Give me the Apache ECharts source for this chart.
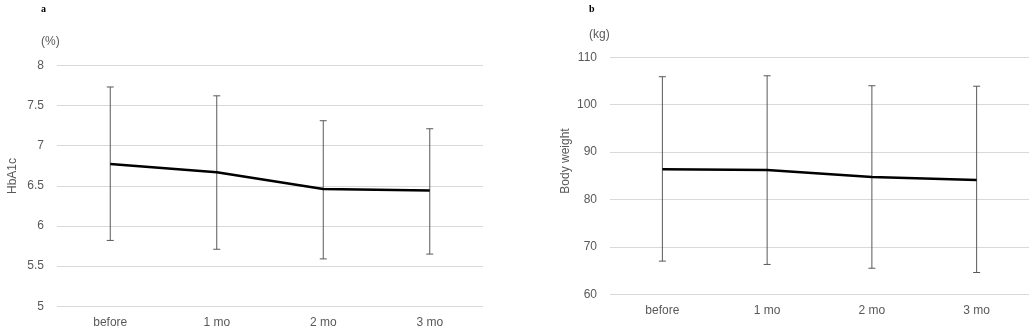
<!DOCTYPE html>
<html>
<head>
<meta charset="utf-8">
<script src="https://cdn.jsdelivr.net/npm/echarts@6/dist/echarts.min.js"></script>
<style>html,body{margin:0;padding:0;background:#fff;}#c{width:1035px;height:330px;}</style>
</head>
<body>
<div id="c"></div>
<script>
var categories = ['before', '1 mo', '2 mo', '3 mo'];
var hba1cMean  = [6.77, 6.67, 6.46, 6.44];
var hba1cUpper = [7.73, 7.62, 7.31, 7.21];
var hba1cLower = [5.82, 5.71, 5.59, 5.65];
var weightMean  = [86.4, 86.2, 84.75, 84.1];
var weightUpper = [105.9, 106.1, 104.0, 103.9];
var weightLower = [67.0, 66.3, 65.5, 64.6];

var FONT = 'Liberation Sans, Arial, sans-serif';
var TXT = '#595959';

function errData(lo, hi) {
  return lo.map(function (v, i) { return [i, v, hi[i]]; });
}
function errRender(params, api) {
  var x = api.value(0);
  var lo = api.coord([x, api.value(1)]);
  var hi = api.coord([x, api.value(2)]);
  var cw = 3.5;
  var st = { stroke: '#595959', lineWidth: 1 };
  return {
    type: 'group',
    children: [
      { type: 'line', shape: { x1: lo[0], y1: lo[1], x2: hi[0], y2: hi[1] }, style: st },
      { type: 'line', shape: { x1: lo[0] - cw, y1: lo[1], x2: lo[0] + cw, y2: lo[1] }, style: st },
      { type: 'line', shape: { x1: hi[0] - cw, y1: hi[1], x2: hi[0] + cw, y2: hi[1] }, style: st }
    ]
  };
}
function xAx(idx, margin) {
  return {
    type: 'category', gridIndex: idx, data: categories, boundaryGap: true,
    axisLine: { show: false }, axisTick: { show: false },
    axisLabel: { color: TXT, fontFamily: FONT, fontSize: 12, margin: margin }
  };
}
function yAx(idx, min, max, interval) {
  return {
    type: 'value', gridIndex: idx, min: min, max: max, interval: interval,
    axisLine: { show: false }, axisTick: { show: false },
    axisLabel: { color: TXT, fontFamily: FONT, fontSize: 12, margin: 13 },
    splitLine: { lineStyle: { color: '#d9d9d9', width: 1 } }
  };
}

var chart = echarts.init(document.getElementById('c'), null, { renderer: 'canvas' });
chart.setOption({
  animation: false,
  backgroundColor: '#fff',
  grid: [
    { left: 57, right: 552, top: 65.3, bottom: 23.7 },
    { left: 610, right: 6, top: 57.3, bottom: 35.7 }
  ],
  xAxis: [xAx(0, 10), xAx(1, 10)],
  yAxis: [yAx(0, 5, 8, 0.5), yAx(1, 60, 110, 10)],
  series: [
    { type: 'custom', xAxisIndex: 0, yAxisIndex: 0, renderItem: errRender, data: errData(hba1cLower, hba1cUpper), z: 2 },
    { type: 'line', xAxisIndex: 0, yAxisIndex: 0, data: hba1cMean, symbol: 'none', lineStyle: { color: '#000', width: 2.5 }, z: 3 },
    { type: 'custom', xAxisIndex: 1, yAxisIndex: 1, renderItem: errRender, data: errData(weightLower, weightUpper), z: 2 },
    { type: 'line', xAxisIndex: 1, yAxisIndex: 1, data: weightMean, symbol: 'none', lineStyle: { color: '#000', width: 2.5 }, z: 3 }
  ],
  graphic: [
    { type: 'text', x: 41, y: 4, style: { text: 'a', font: 'bold 10px Liberation Serif, serif', fill: '#000' } },
    { type: 'text', x: 589, y: 4, style: { text: 'b', font: 'bold 10px Liberation Serif, serif', fill: '#000' } },
    { type: 'text', x: 41, y: 42, style: { text: '(%)', font: '12px ' + FONT, fill: TXT, verticalAlign: 'middle' } },
    { type: 'text', x: 589, y: 35, style: { text: '(kg)', font: '12px ' + FONT, fill: TXT, verticalAlign: 'middle' } },
    { type: 'text', x: 13, y: 176, rotation: Math.PI / 2, style: { text: 'HbA1c', font: '12px ' + FONT, fill: TXT, align: 'center', verticalAlign: 'middle' } },
    { type: 'text', x: 566, y: 161, rotation: Math.PI / 2, style: { text: 'Body weight', font: '12px ' + FONT, fill: TXT, align: 'center', verticalAlign: 'middle' } }
  ]
});
</script>
</body>
</html>
